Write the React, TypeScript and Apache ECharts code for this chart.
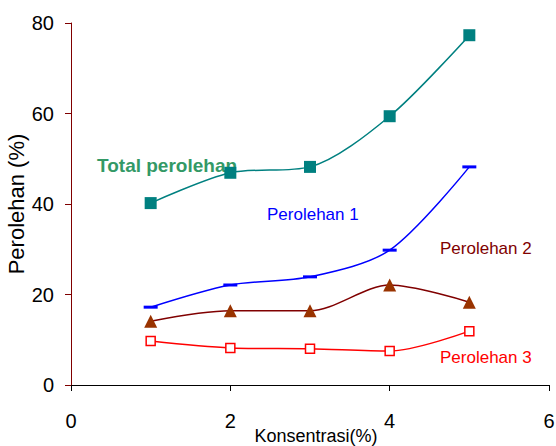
import React, { useEffect, useRef } from "react";
import * as echarts from "echarts";

const konsentrasi = [1, 2, 3, 4, 5];
const totalPerolehan = [40.2, 46.9, 48.2, 59.4, 77.3];
const perolehan1 = [17.2, 22.1, 23.9, 29.8, 48.2];
const perolehan2 = [14.1, 16.4, 16.4, 22.1, 18.3];
const perolehan3 = [9.7, 8.2, 8.0, 7.5, 11.9];

const pairs = (ys: number[]) => konsentrasi.map((x, i) => [x, ys[i]]);

export default function App() {
  const ref = useRef<HTMLDivElement>(null);
  useEffect(() => {
    const chart = echarts.init(ref.current!, null, { renderer: "svg" });
    const font = "Liberation Sans, Arial, sans-serif";
    const label = (text: string, x: number, y: number, fill: string, size: number, bold = false) => ({
      type: "text",
      x,
      y,
      style: {
        text,
        fontFamily: font,
        fontSize: size,
        fontWeight: bold ? "bold" : "normal",
        fill,
        textVerticalAlign: "middle",
      },
    });
    chart.setOption({
      animation: false,
      grid: { left: 71, right: 7, top: 23, bottom: 61, containLabel: false, outerBoundsMode: "none" },
      xAxis: {
        type: "value",
        min: 0,
        max: 6,
        interval: 2,
        name: "Konsentrasi(%)",
        nameLocation: "middle",
        nameGap: 42,
        nameMoveOverlap: false,
        nameTextStyle: { fontFamily: font, fontSize: 18, color: "#000", padding: [0, 0, 0, 12] },
        axisLine: { lineStyle: { color: "#000", width: 1 } },
        axisTick: { show: true, inside: false, length: 6, lineStyle: { color: "#000" } },
        axisLabel: { fontFamily: font, fontSize: 20, color: "#000", margin: 26 },
        splitLine: { show: false },
      },
      yAxis: {
        type: "value",
        min: 0,
        max: 80,
        interval: 20,
        name: "Perolehan (%)",
        nameLocation: "middle",
        nameGap: 44,
        nameMoveOverlap: false,
        nameTextStyle: { fontFamily: font, fontSize: 22, color: "#000" },
        axisLine: { show: true, lineStyle: { color: "#800000", width: 1 } },
        axisTick: { show: true, inside: false, length: 6, lineStyle: { color: "#800000" } },
        axisLabel: { fontFamily: font, fontSize: 20, color: "#000", margin: 17 },
        splitLine: { show: false },
      },
      series: [
        {
          name: "Total perolehan",
          type: "line",
          data: pairs(totalPerolehan),
          smooth: 0.3,
          symbol: "rect",
          symbolSize: 12,
          lineStyle: { color: "#008080", width: 1.5 },
          itemStyle: { color: "#008080" },
        },
        {
          name: "Perolehan 1",
          type: "line",
          data: pairs(perolehan1),
          smooth: 0.3,
          symbol: "rect",
          symbolSize: [14, 3],
          lineStyle: { color: "#0000ff", width: 1.5 },
          itemStyle: { color: "#0000ff" },
        },
        {
          name: "Perolehan 2",
          type: "line",
          data: pairs(perolehan2),
          smooth: 0.3,
          symbol: "triangle",
          symbolSize: 13,
          lineStyle: { color: "#800000", width: 1.5 },
          itemStyle: { color: "#993300" },
        },
        {
          name: "Perolehan 3",
          type: "line",
          data: pairs(perolehan3),
          smooth: 0.3,
          symbol: "rect",
          symbolSize: 9,
          lineStyle: { color: "#ff0000", width: 1.5 },
          itemStyle: { color: "#fff", borderColor: "#ff0000", borderWidth: 1.5 },
        },
      ],
      graphic: [
        label("Total perolehan", 97, 165, "#339966", 19, true),
        label("Perolehan 1", 267, 214, "#0000ff", 17),
        label("Perolehan 2", 440, 248, "#800000", 17),
        label("Perolehan 3", 440, 357, "#ff0000", 17),
      ],
    });
    return () => chart.dispose();
  }, []);
  return <div ref={ref} style={{ width: 556, height: 446, position: "absolute", left: 0, top: 0 }} />;
}
